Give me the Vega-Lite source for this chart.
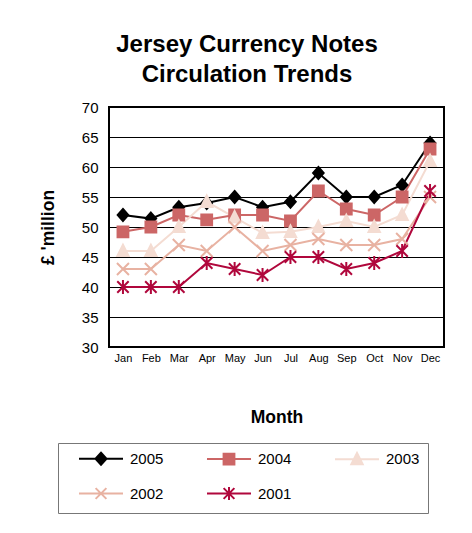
{
  "$schema": "https://vega.github.io/schema/vega-lite/v6.json",
  "width": 335,
  "height": 240,
  "autosize": "none",
  "padding": {"left": 109, "top": 107, "right": 28, "bottom": 186},
  "background": "white",
  "config": {
    "font": "Liberation Sans",
    "view": {"stroke": "black", "strokeWidth": 2}
  },
  "title": {
    "text": ["Jersey Currency Notes", "Circulation Trends"],
    "fontSize": 24,
    "fontWeight": "bold",
    "lineHeight": 30,
    "anchor": "middle",
    "dx": -29.5,
    "offset": 13,
    "color": "black"
  },
  "data": {
    "values": [
      {"month": "Jan", "year": "2005", "value": 52},
      {"month": "Feb", "year": "2005", "value": 51.4},
      {"month": "Mar", "year": "2005", "value": 53.3},
      {"month": "Apr", "year": "2005", "value": 54},
      {"month": "May", "year": "2005", "value": 55},
      {"month": "Jun", "year": "2005", "value": 53.3},
      {"month": "Jul", "year": "2005", "value": 54.2},
      {"month": "Aug", "year": "2005", "value": 59},
      {"month": "Sep", "year": "2005", "value": 55},
      {"month": "Oct", "year": "2005", "value": 55},
      {"month": "Nov", "year": "2005", "value": 57},
      {"month": "Dec", "year": "2005", "value": 64},
      {"month": "Jan", "year": "2004", "value": 49.2},
      {"month": "Feb", "year": "2004", "value": 50},
      {"month": "Mar", "year": "2004", "value": 52},
      {"month": "Apr", "year": "2004", "value": 51.2},
      {"month": "May", "year": "2004", "value": 52},
      {"month": "Jun", "year": "2004", "value": 52},
      {"month": "Jul", "year": "2004", "value": 51},
      {"month": "Aug", "year": "2004", "value": 56},
      {"month": "Sep", "year": "2004", "value": 53},
      {"month": "Oct", "year": "2004", "value": 52},
      {"month": "Nov", "year": "2004", "value": 55},
      {"month": "Dec", "year": "2004", "value": 63},
      {"month": "Jan", "year": "2003", "value": 46},
      {"month": "Feb", "year": "2003", "value": 46},
      {"month": "Mar", "year": "2003", "value": 50},
      {"month": "Apr", "year": "2003", "value": 54.2},
      {"month": "May", "year": "2003", "value": 51.6},
      {"month": "Jun", "year": "2003", "value": 49},
      {"month": "Jul", "year": "2003", "value": 49.2},
      {"month": "Aug", "year": "2003", "value": 50},
      {"month": "Sep", "year": "2003", "value": 51},
      {"month": "Oct", "year": "2003", "value": 50},
      {"month": "Nov", "year": "2003", "value": 52},
      {"month": "Dec", "year": "2003", "value": 61},
      {"month": "Jan", "year": "2002", "value": 43},
      {"month": "Feb", "year": "2002", "value": 43},
      {"month": "Mar", "year": "2002", "value": 47},
      {"month": "Apr", "year": "2002", "value": 46},
      {"month": "May", "year": "2002", "value": 50},
      {"month": "Jun", "year": "2002", "value": 46},
      {"month": "Jul", "year": "2002", "value": 47},
      {"month": "Aug", "year": "2002", "value": 48},
      {"month": "Sep", "year": "2002", "value": 47},
      {"month": "Oct", "year": "2002", "value": 47},
      {"month": "Nov", "year": "2002", "value": 48},
      {"month": "Dec", "year": "2002", "value": 55},
      {"month": "Jan", "year": "2001", "value": 40},
      {"month": "Feb", "year": "2001", "value": 40},
      {"month": "Mar", "year": "2001", "value": 40},
      {"month": "Apr", "year": "2001", "value": 44},
      {"month": "May", "year": "2001", "value": 43},
      {"month": "Jun", "year": "2001", "value": 42},
      {"month": "Jul", "year": "2001", "value": 45},
      {"month": "Aug", "year": "2001", "value": 45},
      {"month": "Sep", "year": "2001", "value": 43},
      {"month": "Oct", "year": "2001", "value": 44},
      {"month": "Nov", "year": "2001", "value": 46},
      {"month": "Dec", "year": "2001", "value": 56}
    ]
  },
  "encoding": {
    "x": {
      "field": "month",
      "type": "ordinal",
      "sort": ["Jan", "Feb", "Mar", "Apr", "May", "Jun", "Jul", "Aug", "Sep", "Oct", "Nov", "Dec"],
      "scale": {"type": "point", "padding": 0.5},
      "axis": {
        "title": "Month",
        "titleFontSize": 17.5,
        "titleFontWeight": "bold",
        "titleColor": "black",
        "titlePadding": 45,
        "labelFontSize": 11,
        "labelColor": "black",
        "labelPadding": 5,
        "labelAngle": 0,
        "ticks": false,
        "tickSize": 0,
        "domain": false,
        "grid": false
      }
    },
    "y": {
      "field": "value",
      "type": "quantitative",
      "scale": {"domain": [30, 70], "nice": false, "zero": false},
      "axis": {
        "title": "£ 'million",
        "titleFontSize": 17.5,
        "titleFontWeight": "bold",
        "titleColor": "black",
        "titlePadding": 24,
        "values": [30, 35, 40, 45, 50, 55, 60, 65, 70],
        "labelFontSize": 15,
        "labelColor": "black",
        "labelPadding": 11,
        "ticks": false,
        "tickSize": 0,
        "domain": false,
        "grid": true,
        "gridColor": "black",
        "gridWidth": 1.2,
        "gridOpacity": 1
      }
    }
  },
  "resolve": {"scale": {"shape": "independent", "color": "independent", "stroke": "independent"}},
  "layer": [
    {
      "mark": {"type": "line", "strokeWidth": 2},
      "encoding": {
        "color": {
          "field": "year",
          "type": "nominal",
          "scale": {
            "domain": ["2005", "2004", "2003", "2002", "2001"],
            "range": ["#000000", "#CC6666", "#F4DCD2", "#E8B2A2", "#B0073C"]
          },
          "legend": null
        }
      }
    },
    {
      "mark": {"type": "point", "filled": true, "size": 144, "strokeWidth": 2, "opacity": 1},
      "encoding": {
        "color": {
          "field": "year",
          "type": "nominal",
          "scale": {
            "domain": ["2005", "2004", "2003", "2002", "2001"],
            "range": ["#000000", "#CC6666", "#F4DCD2", "#E8B2A2", "#B0073C"]
          },
          "legend": null
        },
        "stroke": {
          "field": "year",
          "type": "nominal",
          "scale": {
            "domain": ["2005", "2004", "2003", "2002", "2001"],
            "range": ["#000000", "#CC6666", "#F4DCD2", "#E8B2A2", "#B0073C"]
          },
          "legend": null
        },
        "shape": {
          "field": "year",
          "type": "nominal",
          "scale": {
            "domain": ["2005", "2004", "2003", "2002", "2001"],
            "range": [
              "M0,-1L0.88,0L0,1L-0.88,0Z",
              "M-0.9,-0.9H0.9V0.9H-0.9Z",
              "M0,-1.05L0.95,0.85H-0.95Z",
              "M-1,-1L1,1M-1,1L1,-1",
              "M-0.95,-0.95L0.95,0.95M-0.95,0.95L0.95,-0.95M0,-1.15V1.15"
            ]
          },
          "legend": null
        }
      }
    },
    {
      "mark": {"type": "point", "filled": true, "size": 144, "strokeWidth": 2, "opacity": 0},
      "encoding": {
        "color": {
          "field": "year",
          "type": "nominal",
          "scale": {
            "domain": ["2005", "2004", "2003", "2002", "2001"],
            "range": ["#000000", "#CC6666", "#F4DCD2", "#E8B2A2", "#B0073C"]
          },
          "legend": {
            "orient": "none", "legendX": -51, "legendY": 336, "direction": "horizontal", "columns": 3,
            "title": " ", "titleOrient": "left", "titleFontSize": 1, "titlePadding": 27.5,
            "padding": 8, "strokeColor": "#777777", "fillColor": "white",
            "labelFontSize": 15, "labelColor": "black", "labelOffset": 21.5,
            "labelExpr": "datum.label + '\u00a0\u00a0'",
            "symbolSize": 144, "symbolStrokeWidth": 2, "symbolOpacity": 1,
            "columnPadding": 39, "rowPadding": 13
          }
        },
        "stroke": {
          "field": "year",
          "type": "nominal",
          "scale": {
            "domain": ["2005", "2004", "2003", "2002", "2001"],
            "range": ["#000000", "#CC6666", "#F4DCD2", "#E8B2A2", "#B0073C"]
          },
          "legend": {
            "orient": "none", "legendX": -51, "legendY": 336, "direction": "horizontal", "columns": 3,
            "title": " ", "titleOrient": "left", "titleFontSize": 1, "titlePadding": 27.5,
            "padding": 8, "strokeColor": "#777777", "fillColor": "white",
            "labelFontSize": 15, "labelColor": "black", "labelOffset": 21.5,
            "labelExpr": "datum.label + '\u00a0\u00a0'",
            "symbolSize": 144, "symbolStrokeWidth": 2, "symbolOpacity": 1,
            "columnPadding": 39, "rowPadding": 13
          }
        },
        "shape": {
          "field": "year",
          "type": "nominal",
          "scale": {
            "domain": ["2005", "2004", "2003", "2002", "2001"],
            "range": [
              "M-3.67,0L3.67,0M0,-1L0.92,0L0,1L-0.92,0Z",
              "M-3.67,0L3.67,0M-0.9,-0.9L0.9,-0.9L0.9,0.9L-0.9,0.9Z",
              "M-3.67,0L3.67,0M0,-1.05L0.95,0.85L-0.95,0.85Z",
              "M-3.67,0L3.67,0M-0.9,-0.9L0.9,0.9M-0.9,0.9L0.9,-0.9",
              "M-3.67,0L3.67,0M-0.9,-0.9L0.9,0.9M-0.9,0.9L0.9,-0.9M0,-1.1L0,1.1"
            ]
          },
          "legend": {
            "orient": "none", "legendX": -51, "legendY": 336, "direction": "horizontal", "columns": 3,
            "title": " ", "titleOrient": "left", "titleFontSize": 1, "titlePadding": 27.5,
            "padding": 8, "strokeColor": "#777777", "fillColor": "white",
            "labelFontSize": 15, "labelColor": "black", "labelOffset": 21.5,
            "labelExpr": "datum.label + '\u00a0\u00a0'",
            "symbolSize": 144, "symbolStrokeWidth": 2, "symbolOpacity": 1,
            "columnPadding": 39, "rowPadding": 13
          }
        }
      }
    }
  ]
}
